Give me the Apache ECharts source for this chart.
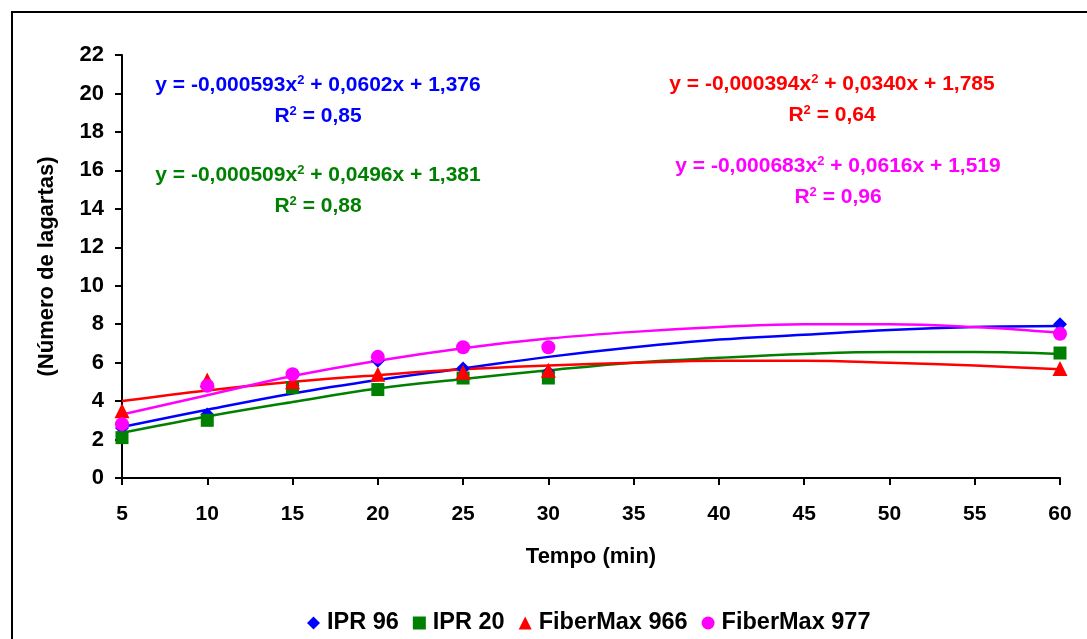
<!DOCTYPE html>
<html>
<head>
<meta charset="utf-8">
<script src="https://cdn.jsdelivr.net/npm/echarts@6/dist/echarts.min.js"></script>
<style>
  html, body { margin: 0; padding: 0; background: #fff; }
  #chart { width: 1087px; height: 639px; }
</style>
</head>
<body>
<div id="chart"></div>
<script>
// tempos medidos (min)
var tempos = [5, 10, 15, 20, 25, 30, 60]
// número de lagartas por cultivar
var ipr96 = [2.6, 3.3, 4.8, 6.1, 5.7, 5.5, 8.0]
var ipr20 = [2.1, 3.0, 4.7, 4.6, 5.2, 5.2, 6.5]
var fm966 = [3.5, 5.1, 5.0, 5.4, 5.5, 5.6, 5.7]
var fm977 = [2.8, 4.8, 5.4, 6.3, 6.8, 6.8, 7.5]

// linhas de tendência
var temposTend = [5, 10, 15, 20, 25, 30, 35, 40, 45, 50, 55, 60]
var tendIpr96 = [2.65, 3.55, 4.4, 5.1, 5.7, 6.3, 6.8, 7.2, 7.45, 7.7, 7.85, 7.9]
var tendIpr20 = [2.35, 3.2, 3.95, 4.65, 5.15, 5.6, 6.0, 6.25, 6.45, 6.55, 6.55, 6.45]
var tendFm966 = [4.0, 4.55, 5.0, 5.35, 5.65, 5.85, 6.0, 6.1, 6.1, 6.0, 5.85, 5.65]
var tendFm977 = [3.3, 4.3, 5.3, 6.1, 6.75, 7.25, 7.6, 7.85, 8.0, 8.0, 7.85, 7.55]

var nomes = ['IPR 96', 'IPR 20', 'FiberMax 966', 'FiberMax 977']
var cores = ['#0000ff', '#008000', '#ff0000', '#ff00ff']
var simbolos = ['diamond', 'rect', 'triangle', 'circle']
var equacoes = [
  ['y = -0,000593x', ' + 0,0602x + 1,376', '0,85'],
  ['y = -0,000509x', ' + 0,0496x + 1,381', '0,88'],
  ['y = -0,000394x', ' + 0,0340x + 1,785', '0,64'],
  ['y = -0,000683x', ' + 0,0616x + 1,519', '0,96']
]
var posEq = [[318, 85], [318, 175], [832, 84], [838, 166]]

function pares(xs, ys) {
  return xs.map(function (x, i) { return [x, ys[i]] })
}

var font = 'Liberation Sans, Arial, sans-serif'
var pontos = [ipr96, ipr20, fm966, fm977]
var tendencias = [tendIpr96, tendIpr20, tendFm966, tendFm977]

var series = []
tendencias.forEach(function (t, i) {
  series.push({
    name: 'tend' + i,
    type: 'line',
    data: pares(temposTend, t),
    smooth: 0.4,
    showSymbol: false,
    silent: true,
    lineStyle: { color: cores[i], width: 2.5 },
    z: 2
  })
})
pontos.forEach(function (p, i) {
  series.push({
    name: nomes[i],
    type: 'scatter',
    data: pares(tempos, p),
    symbol: simbolos[i],
    symbolSize: i == 1 ? 13 : (i == 2 ? 15 : 14),
    itemStyle: { color: cores[i], opacity: 1 },
    z: 3
  })
})

var graficos = [{
  type: 'rect',
  shape: { x: 12, y: 12, width: 1100, height: 700 },
  style: { fill: 'none', stroke: '#000', lineWidth: 2 },
  silent: true
}]
equacoes.forEach(function (e, i) {
  var rich = {
    a: { fontSize: 21, fontWeight: 'bold', fontFamily: font, fill: cores[i] },
    s: { fontSize: 13, fontWeight: 'bold', fontFamily: font, fill: cores[i], verticalAlign: 'top', padding: [0, 0, 9, 0] }
  }
  graficos.push({
    type: 'text',
    x: posEq[i][0], y: posEq[i][1],
    style: {
      text: '{a|' + e[0] + '}{s|2}{a|' + e[1] + '}',
      rich: rich, align: 'center', verticalAlign: 'middle', fill: cores[i]
    }
  })
  graficos.push({
    type: 'text',
    x: posEq[i][0], y: posEq[i][1] + 31,
    style: {
      text: '{a|R}{s|2}{a| = ' + e[2] + '}',
      rich: rich, align: 'center', verticalAlign: 'middle', fill: cores[i]
    }
  })
})

var chart = echarts.init(document.getElementById('chart'))
chart.setOption({
  backgroundColor: '#fff',
  animation: false,
  textStyle: { fontFamily: font },
  grid: { left: 122, right: 27, top: 55, bottom: 161 },
  legend: {
    data: nomes.map(function (n, i) { return { name: n, icon: simbolos[i] } }),
    top: 606,
    left: 302,
    itemWidth: 13,
    itemHeight: 13,
    itemGap: 14,
    textStyle: { fontSize: 23.5, fontWeight: 'bold', color: '#000', fontFamily: font, padding: [0, 0, 0, 2] }
  },
  xAxis: {
    type: 'value',
    min: 5, max: 60, interval: 5,
    name: 'Tempo (min)',
    nameLocation: 'middle',
    nameGap: 68,
    nameTextStyle: { fontSize: 22, fontWeight: 'bold', color: '#000' },
    axisLine: { lineStyle: { color: '#000', width: 2 } },
    axisTick: { inside: false, length: 7, lineStyle: { color: '#000', width: 2 } },
    axisLabel: { fontSize: 21, fontWeight: 'bold', color: '#000', margin: 26 },
    splitLine: { show: false }
  },
  yAxis: {
    type: 'value',
    min: 0, max: 22, interval: 2,
    name: '(Número de lagartas)',
    nameLocation: 'middle',
    nameGap: 64,
    nameTextStyle: { fontSize: 22, fontWeight: 'bold', color: '#000' },
    axisLine: { show: true, lineStyle: { color: '#000', width: 2 } },
    axisTick: { show: true, length: 7, lineStyle: { color: '#000', width: 2 } },
    axisLabel: { fontSize: 22, fontWeight: 'bold', color: '#000', margin: 18 },
    splitLine: { show: false }
  },
  graphic: graficos,
  series: series
})
</script>
</body>
</html>
